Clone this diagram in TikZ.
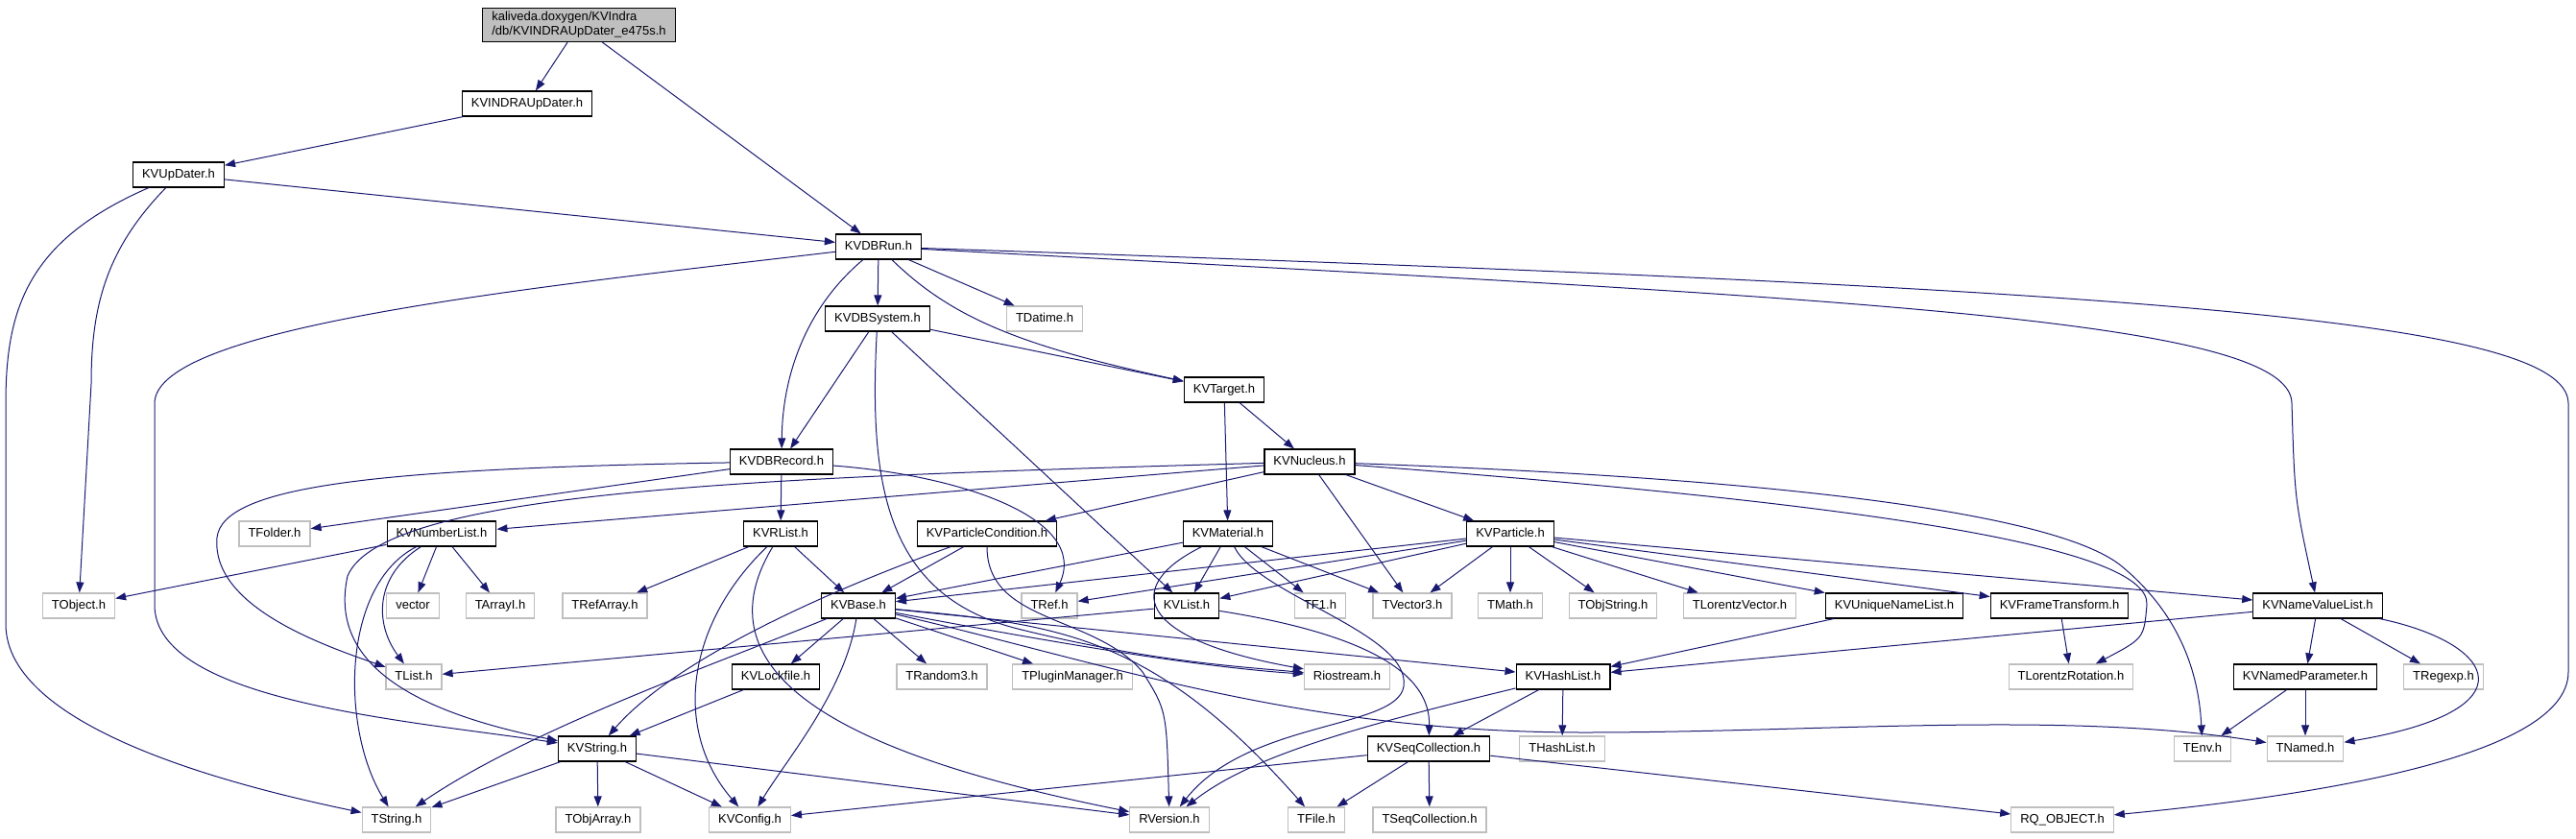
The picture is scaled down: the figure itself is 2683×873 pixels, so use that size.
\documentclass[tikz,border=0pt]{standalone}
\usepackage{fontspec}
\setmainfont{Liberation Sans}
\usetikzlibrary{arrows.meta}
\definecolor{edgeblue}{HTML}{191970}
\definecolor{sysgray}{HTML}{BFBFBF}

\begin{document}
\begin{tikzpicture}[x=1pt,y=-1pt,
    file/.style={draw=black, line width=1.2pt, fill=white, inner xsep=9.5pt, inner ysep=0pt,
      minimum height=26pt, text height=9.5pt, text depth=2.8pt, font=\fontsize{13}{15}\selectfont},
    sysfile/.style={file, draw=sysgray},
    rootfile/.style={draw=black, line width=1.2pt, fill=sysgray, inner xsep=9.5pt, inner ysep=4pt,
      align=left, font=\fontsize{13}{15}\selectfont},
    dep/.style={draw=edgeblue, line width=1pt, -{Triangle[length=11pt,width=8pt]}}]
  \useasboundingbox (0,0) rectangle (2683,873);

  % files
  \node[rootfile] (root) at (603,26) {kaliveda.doxygen/KVIndra\\/db/KVINDRAUpDater\_e475s.h};
  \node[file] (indraup) at (549,108) {KVINDRAUpDater.h};
  \node[file] (updater) at (186,182) {KVUpDater.h};
  \node[file] (dbrun) at (915,257) {KVDBRun.h};
  \node[file] (dbsystem) at (914,332) {KVDBSystem.h};
  \node[sysfile] (tdatime) at (1088,332) {TDatime.h};
  \node[file] (target) at (1275,406) {KVTarget.h};
  \node[file] (dbrecord) at (814,481) {KVDBRecord.h};
  \node[file] (nucleus) at (1364,481) {KVNucleus.h};

  \node[sysfile] (tfolder) at (286,556) {TFolder.h};
  \node[file] (numberlist) at (460,556) {KVNumberList.h};
  \node[file] (rlist) at (813,556) {KVRList.h};
  \node[file] (partcond) at (1028,556) {KVParticleCondition.h};
  \node[file] (material) at (1279,556) {KVMaterial.h};
  \node[file] (particle) at (1573,556) {KVParticle.h};

  \node[sysfile] (tobject) at (82,631) {TObject.h};
  \node[sysfile] (vector) at (430,631) {vector};
  \node[sysfile] (tarrayi) at (521,631) {TArrayI.h};
  \node[sysfile] (trefarray) at (630,631) {TRefArray.h};
  \node[file] (kvbase) at (894,631) {KVBase.h};
  \node[sysfile] (tref) at (1093,631) {TRef.h};
  \node[file] (kvlist) at (1236,631) {KVList.h};
  \node[sysfile] (tfone) at (1375,631) {TF1.h};
  \node[sysfile] (tvector) at (1471,631) {TVector3.h};
  \node[sysfile] (tmath) at (1573,631) {TMath.h};
  \node[sysfile] (tobjstring) at (1680,631) {TObjString.h};
  \node[sysfile] (lorentzvec) at (1812,631) {TLorentzVector.h};
  \node[file] (uniquelist) at (1973,631) {KVUniqueNameList.h};
  \node[file] (frametrans) at (2145,631) {KVFrameTransform.h};
  \node[file] (namevalue) at (2414,631) {KVNameValueList.h};

  \node[sysfile] (tlist) at (431,705) {TList.h};
  \node[file] (lockfile) at (808,705) {KVLockfile.h};
  \node[sysfile] (trandom) at (981,705) {TRandom3.h};
  \node[sysfile] (pluginman) at (1117,705) {TPluginManager.h};
  \node[sysfile] (riostream) at (1403,705) {Riostream.h};
  \node[file] (hashlist) at (1628,705) {KVHashList.h};
  \node[sysfile] (lorentzrot) at (2157,705) {TLorentzRotation.h};
  \node[file] (namedpar) at (2401,705) {KVNamedParameter.h};
  \node[sysfile] (tregexp) at (2545,705) {TRegexp.h};

  \node[file] (kvstring) at (622,780) {KVString.h};
  \node[file] (seqcoll) at (1488,780) {KVSeqCollection.h};
  \node[sysfile] (thashlist) at (1627,780) {THashList.h};
  \node[sysfile] (tenv) at (2294,780) {TEnv.h};
  \node[sysfile] (tnamed) at (2401,780) {TNamed.h};

  \node[sysfile] (tstring) at (413,854) {TString.h};
  \node[sysfile] (tobjarray) at (623,854) {TObjArray.h};
  \node[sysfile] (kvconfig) at (781,854) {KVConfig.h};
  \node[sysfile] (rversion) at (1218,854) {RVersion.h};
  \node[sysfile] (tfile) at (1371,854) {TFile.h};
  \node[sysfile] (tseqcoll) at (1489,854) {TSeqCollection.h};
  \node[sysfile] (rqobject) at (2148,854) {RQ\_OBJECT.h};

  % includes
  \draw[dep] (root) -- (indraup);
  \draw[dep] (root) -- (dbrun);
  \draw[dep] (indraup) -- (updater);
  \draw[dep] (updater) -- (dbrun);
  \draw[dep] (updater) .. controls (110,260) and (95,320) .. (95,400) -- (tobject);
  \draw[dep] (updater) .. controls (30,250) and (6,320) .. (6,420) -- (6,650) .. controls (6,760) and (250,820) .. (tstring);

  \draw[dep] (dbrun) -- (dbsystem);
  \draw[dep] (dbrun) -- (tdatime);
  \draw[dep] (dbrun) .. controls (990,330) and (1060,360) .. (target);
  \draw[dep] (dbrun) .. controls (840,320) and (815,390) .. (dbrecord);
  \draw[dep] (dbrun) .. controls (550,300) and (162,340) .. (161,420) -- (161,630) .. controls (161,730) and (420,750) .. (kvstring);
  \draw[dep] (dbrun) .. controls (1900,310) and (2386,330) .. (2387,420) .. controls (2390,520) .. (namevalue);
  \draw[dep] (dbrun) .. controls (2200,300) and (2674,330) .. (2675,420) -- (2675,700) .. controls (2675,790) and (2400,830) .. (rqobject);

  \draw[dep] (dbsystem) -- (dbrecord);
  \draw[dep] (dbsystem) -- (target);
  \draw[dep] (dbsystem) -- (kvlist);
  \draw[dep] (dbsystem) .. controls (905,500) and (920,620) .. (1060,655) .. controls (1200,690) and (1300,695) .. (riostream);

  \draw[dep] (target) -- (material);
  \draw[dep] (target) -- (nucleus);

  \draw[dep] (dbrecord) -- (rlist);
  \draw[dep] (dbrecord) -- (tfolder);
  \draw[dep] (dbrecord) .. controls (400,488) and (232,505) .. (226,560) .. controls (220,630) and (330,670) .. (tlist);
  \draw[dep] (dbrecord) .. controls (1000,495) and (1135,540) .. (tref);

  \draw[dep] (nucleus) -- (numberlist);
  \draw[dep] (nucleus) .. controls (800,497) and (400,510) .. (362,600) .. controls (340,700) and (450,745) .. (kvstring);
  \draw[dep] (nucleus) -- (partcond);
  \draw[dep] (nucleus) -- (particle);
  \draw[dep] (nucleus) -- (tvector);
  \draw[dep] (nucleus) .. controls (1950,525) and (2240,570) .. (2236,630) .. controls (2233,665) .. (lorentzrot);
  \draw[dep] (nucleus) .. controls (1900,500) and (2150,540) .. (2210,590) .. controls (2270,640) and (2290,700) .. (tenv);

  \draw[dep] (particle) -- (kvbase);
  \draw[dep] (particle) -- (tref);
  \draw[dep] (particle) -- (kvlist);
  \draw[dep] (particle) -- (tvector);
  \draw[dep] (particle) -- (tmath);
  \draw[dep] (particle) -- (tobjstring);
  \draw[dep] (particle) -- (lorentzvec);
  \draw[dep] (particle) -- (uniquelist);
  \draw[dep] (particle) -- (frametrans);
  \draw[dep] (particle) -- (namevalue);

  \draw[dep] (material) -- (kvbase);
  \draw[dep] (material) -- (kvlist);
  \draw[dep] (material) -- (tfone);
  \draw[dep] (material) -- (tvector);
  \draw[dep] (material) .. controls (1170,610) and (1180,665) .. (riostream);
  \draw[dep] (material) .. controls (1310,620) and (1470,660) .. (1462,715) .. controls (1455,760) and (1300,750) .. (rversion);

  \draw[dep] (partcond) -- (kvbase);
  \draw[dep] (partcond) .. controls (850,620) and (700,690) .. (kvstring);
  \draw[dep] (partcond) .. controls (1028,650) and (1140,640) .. (1190,700) .. controls (1215,740) .. (rversion);

  \draw[dep] (rlist) -- (kvbase);
  \draw[dep] (rlist) -- (trefarray);
  \draw[dep] (rlist) .. controls (715,650) and (700,760) .. (kvconfig);
  \draw[dep] (rlist) .. controls (720,710) and (900,790) .. (rversion);

  \draw[dep] (kvbase) -- (lockfile);
  \draw[dep] (kvbase) -- (trandom);
  \draw[dep] (kvbase) -- (pluginman);
  \draw[dep] (kvbase) .. controls (1100,670) and (1250,695) .. (riostream);
  \draw[dep] (kvbase) -- (hashlist);
  \draw[dep] (kvbase) .. controls (1100,650) and (1200,660) .. (tfile);
  \draw[dep] (kvbase) .. controls (1150,690) and (1350,763) .. (1650,763) .. controls (1900,763) and (2150,740) .. (tnamed);
  \draw[dep] (kvbase) .. controls (750,690) and (550,760) .. (tstring);
  \draw[dep] (kvbase) .. controls (880,720) and (820,790) .. (kvconfig);

  \draw[dep] (kvlist) -- (tlist);
  \draw[dep] (kvlist) .. controls (1420,660) and (1490,700) .. (seqcoll);

  \draw[dep] (kvstring) -- (tstring);
  \draw[dep] (kvstring) -- (tobjarray);
  \draw[dep] (kvstring) -- (kvconfig);
  \draw[dep] (kvstring) -- (rversion);
  \draw[dep] (lockfile) -- (kvstring);

  \draw[dep] (hashlist) -- (seqcoll);
  \draw[dep] (hashlist) -- (thashlist);
  \draw[dep] (hashlist) .. controls (1400,760) and (1300,790) .. (rversion);
  \draw[dep] (seqcoll) -- (kvconfig);
  \draw[dep] (seqcoll) -- (tfile);
  \draw[dep] (seqcoll) -- (tseqcoll);
  \draw[dep] (seqcoll) -- (rqobject);
  \draw[dep] (uniquelist) -- (hashlist);

  \draw[dep] (namevalue) -- (hashlist);
  \draw[dep] (namevalue) -- (namedpar);
  \draw[dep] (namevalue) -- (tregexp);
  \draw[dep] (namevalue) .. controls (2600,670) and (2640,740) .. (tnamed);
  \draw[dep] (namedpar) -- (tenv);
  \draw[dep] (namedpar) -- (tnamed);
  \draw[dep] (frametrans) -- (lorentzrot);

  \draw[dep] (numberlist) -- (tobject);
  \draw[dep] (numberlist) -- (vector);
  \draw[dep] (numberlist) -- (tarrayi);
  \draw[dep] (numberlist) .. controls (390,600) and (390,650) .. (tlist);
  \draw[dep] (numberlist) .. controls (355,610) and (355,760) .. (tstring);
\end{tikzpicture}
\end{document}
